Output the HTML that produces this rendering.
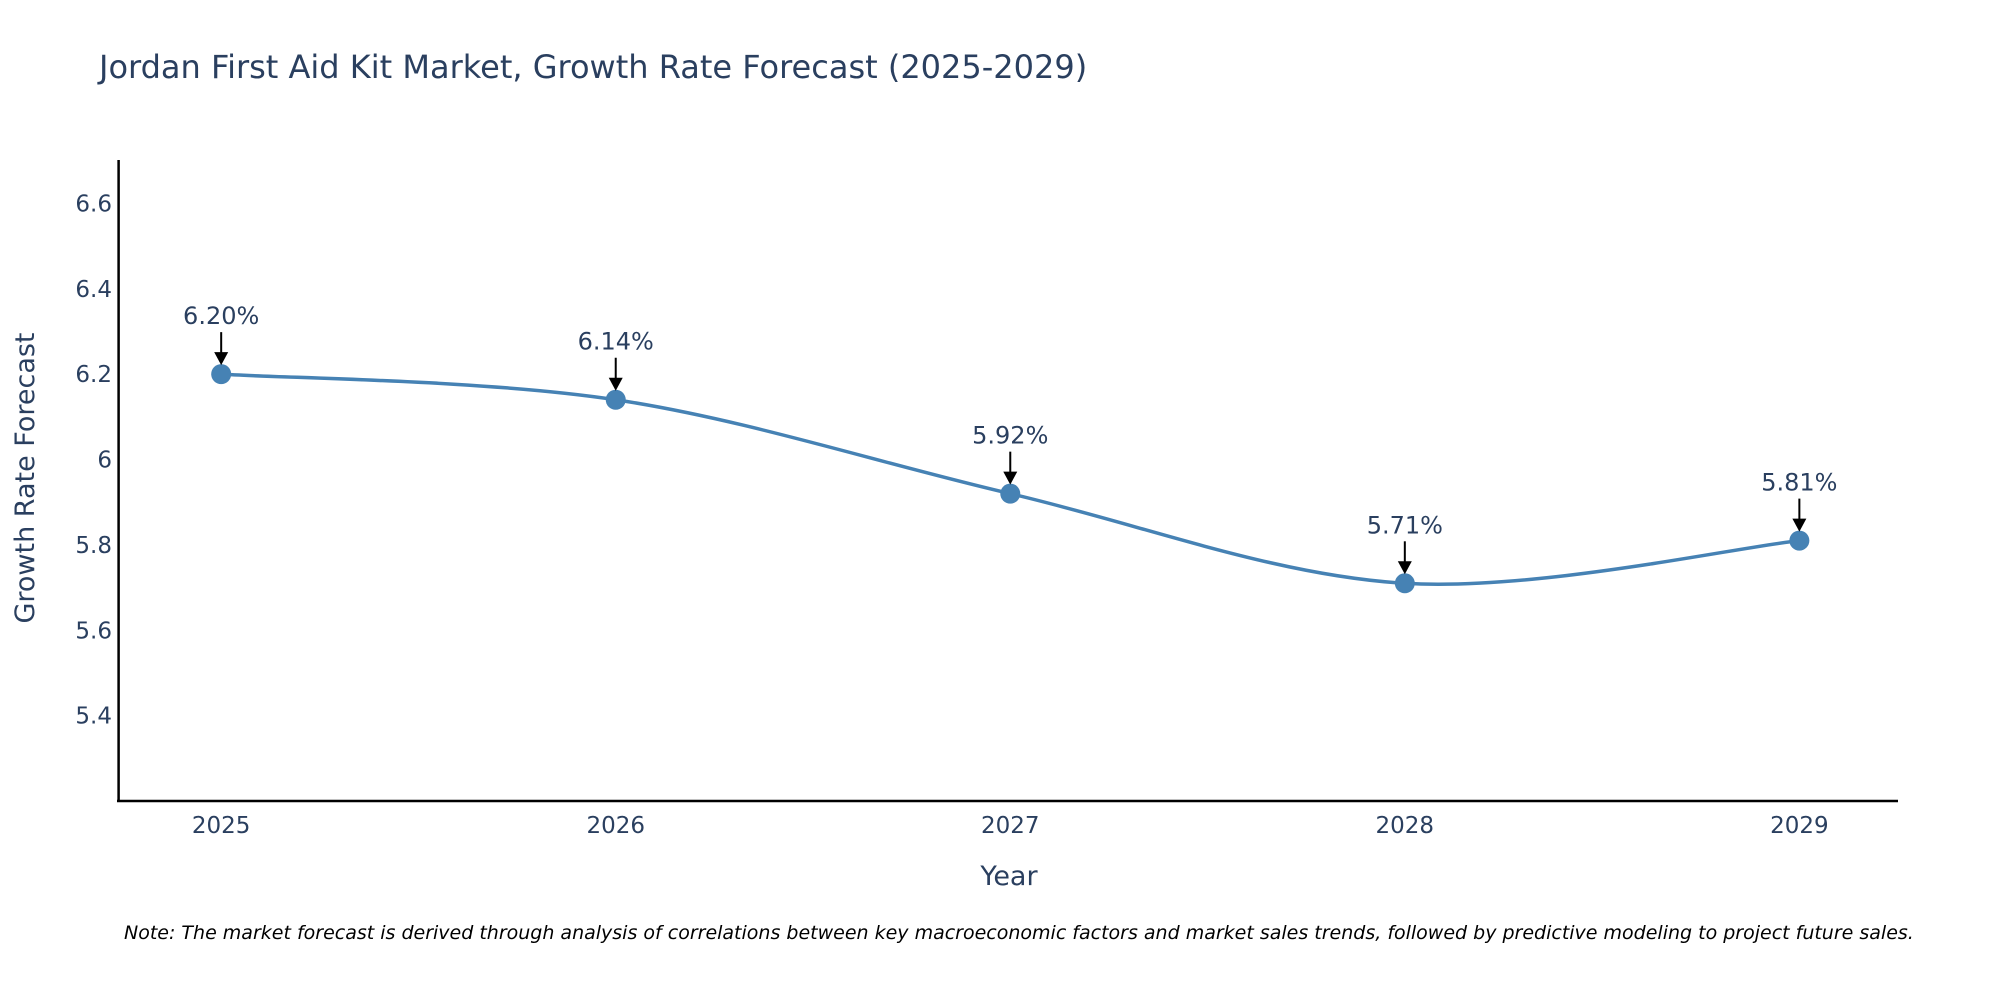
<!DOCTYPE html>
<html><head><meta charset="utf-8"><style>
body{margin:0;background:#fff;}
svg{display:block;font-family:"DejaVu Sans","Liberation Sans",sans-serif;}
</style></head><body>
<svg id="chart" width="2000" height="1000" viewBox="0 0 2000 1000">
<text x="99" y="78" font-size="32" fill="#2a3f5f">Jordan First Aid Kit Market, Growth Rate Forecast (2025-2029)</text>
<g id="yticks"></g>
<g id="xticks"></g>
<line x1="118.6" y1="160" x2="118.6" y2="802" stroke="#000" stroke-width="2.5"/>
<line x1="117" y1="801" x2="1898" y2="801" stroke="#000" stroke-width="2.5"/>
<path id="line" fill="none" stroke="#4682b4" stroke-width="3.5"/>
<g id="points"></g>
<g id="annos"></g>
<text x="34" y="478" font-size="27" fill="#2a3f5f" text-anchor="middle" transform="rotate(-90 34 478)">Growth Rate Forecast</text>
<text x="1009" y="885" font-size="27" fill="#2a3f5f" text-anchor="middle">Year</text>
<text x="124" y="939" font-size="19" font-style="italic" fill="#000">Note: The market forecast is derived through analysis of correlations between key macroeconomic factors and market sales trends, followed by predictive modeling to project future sales.</text>
</svg>
<script>
const years = [2025, 2026, 2027, 2028, 2029];
const values = [6.20, 6.14, 5.92, 5.71, 5.81];
const valueLabels = ["6.20%", "6.14%", "5.92%", "5.71%", "5.81%"];
const yTickValues = [5.4, 5.6, 5.8, 6, 6.2, 6.4, 6.6];
const yTickLabels = ["5.4", "5.6", "5.8", "6", "6.2", "6.4", "6.6"];
const NS = "http://www.w3.org/2000/svg";
const xMin = 2024.74, xMax = 2029.25, pxL = 118.6, pxR = 1898;
const yMin = 5.2, yMax = 6.7, pyB = 801, pyT = 160.7;
function X(v){return pxL + (v - xMin) / (xMax - xMin) * (pxR - pxL);}
function Y(v){return pyB - (v - yMin) / (yMax - yMin) * (pyB - pyT);}
function mk(tag, attrs, parent, text){
  const el = document.createElementNS(NS, tag);
  for (const k in attrs) el.setAttribute(k, attrs[k]);
  if (text !== undefined) el.textContent = text;
  parent.appendChild(el);
  return el;
}
const yt = document.getElementById('yticks');
yTickValues.forEach((v, i) => {
  const t = mk('text', {x: 112, y: Y(v) + 8, 'font-size': 23, fill: '#2a3f5f', 'text-anchor': 'end'}, yt, yTickLabels[i]);
  
  
});
const xt = document.getElementById('xticks');
years.forEach(y => {
  const t = mk('text', {x: X(y), y: 833, 'font-size': 23, fill: '#2a3f5f', 'text-anchor': 'middle'}, xt, String(y));
  
  
});
const pts = years.map((y, i) => [X(y), Y(values[i])]);
let d = `M${pts[0][0]},${pts[0][1]}`;
for (let i = 0; i < pts.length - 1; i++) {
  const p0 = pts[i - 1] || pts[i], p1 = pts[i], p2 = pts[i + 1], p3 = pts[i + 2] || p2;
  const c1 = [p1[0] + (p2[0] - p0[0]) / 6, p1[1] + (p2[1] - p0[1]) / 6];
  const c2 = [p2[0] - (p3[0] - p1[0]) / 6, p2[1] - (p3[1] - p1[1]) / 6];
  d += ` C${c1[0]},${c1[1]} ${c2[0]},${c2[1]} ${p2[0]},${p2[1]}`;
}
document.getElementById('line').setAttribute('d', d);
const pg = document.getElementById('points');
const ag = document.getElementById('annos');
pts.forEach((p, i) => {
  const c = mk('circle', {cx: p[0], cy: p[1], r: 10, fill: '#4682b4'}, pg);
  
  
  const ln = mk('line', {x1: p[0], y1: p[1] - 42, x2: p[0], y2: p[1] - 20, stroke: '#000', 'stroke-width': 2}, ag);
  
  
  const hd = mk('polygon', {points: `${p[0]-7},${p[1]-22} ${p[0]+7},${p[1]-22} ${p[0]},${p[1]-9}`, fill: '#000'}, ag);
  
  
  const t = mk('text', {x: p[0], y: p[1] - 50, 'font-size': 24, fill: '#2a3f5f', 'text-anchor': 'middle'}, ag, valueLabels[i]);
  
  
});
</script>
</body></html>
